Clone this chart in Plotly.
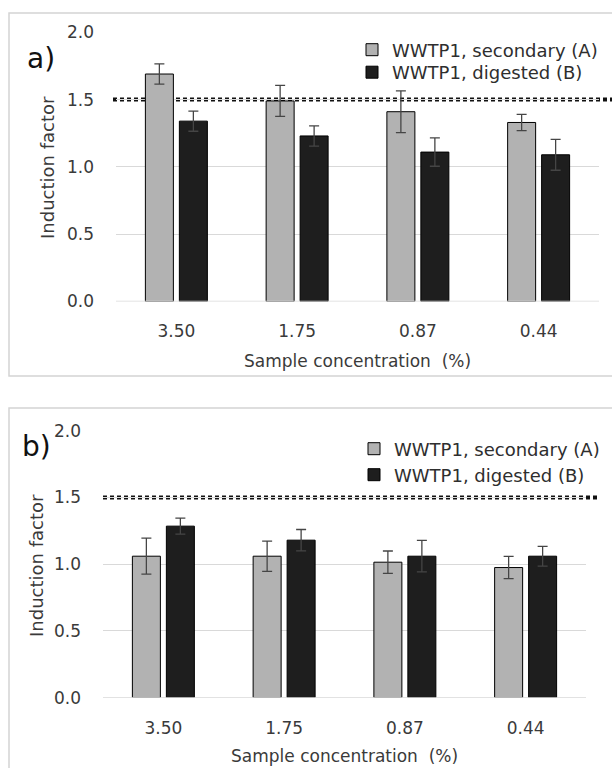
import plotly.graph_objects as go

W, H = 612, 768

categories = ["3.50", "1.75", "0.87", "0.44"]
series_names = ["WWTP1, secondary (A)", "WWTP1, digested (B)"]

# Panel a
a_secondary = [1.69, 1.49, 1.41, 1.33]
a_secondary_err = [0.075, 0.115, 0.155, 0.06]
a_digested = [1.34, 1.23, 1.11, 1.09]
a_digested_err = [0.075, 0.075, 0.105, 0.115]

# Panel b
b_secondary = [1.06, 1.06, 1.015, 0.975]
b_secondary_err = [0.135, 0.113, 0.084, 0.083]
b_digested = [1.285, 1.18, 1.06, 1.06]
b_digested_err = [0.06, 0.08, 0.118, 0.074]

threshold = 1.5
y_ticks = [0.0, 0.5, 1.0, 1.5, 2.0]

GREY = "#b2b2b2"
BLACK = "#1e1e1e"
TEXT = "#3a3a3a"
GRID = "#d9d9d9"
FONT = "DejaVu Sans"


def px(x):
    return x / W


def py(y):
    return 1 - y / H


fig = go.Figure()

panels = [
    ("x", "y", ("legend", "legend3"), a_secondary, a_secondary_err, a_digested, a_digested_err),
    ("x2", "y2", ("legend2", "legend4"), b_secondary, b_secondary_err, b_digested, b_digested_err),
]
for xa, ya, lgs, s, se, d, de in panels:
    for name, vals, errs, color, lg in [
        (series_names[0], s, se, GREY, lgs[0]),
        (series_names[1], d, de, BLACK, lgs[1]),
    ]:
        fig.add_trace(
            go.Bar(
                x=categories,
                y=vals,
                name=name,
                xaxis=xa,
                yaxis=ya,
                legend=lg,
                marker=dict(color=color, line=dict(color="#000000", width=1)),
                error_y=dict(
                    type="data", array=errs, visible=True,
                    color="#454545", thickness=1.3, width=5,
                ),
            )
        )

tickfont = dict(family=FONT, size=17, color=TEXT)
y_common = dict(showline=False, zeroline=False, ticks="", range=[0, 2],
                tickvals=y_ticks, ticktext=[f"{v:.1f}" for v in y_ticks],
                showgrid=True, gridcolor=GRID, gridwidth=1,
                tickfont=tickfont, ticklabelstandoff=21)
x_common = dict(showline=False, zeroline=False, ticks="", showgrid=False, tickfont=tickfont)

legend_font = dict(family=FONT, size=18, color="#2e2e2e")


def legend_at(x, y):
    return dict(x=px(x), y=py(y), xanchor="left", yanchor="middle",
                bgcolor="rgba(0,0,0,0)", font=legend_font)


fig.update_layout(
    width=W, height=H,
    margin=dict(l=0, r=0, t=0, b=0, autoexpand=False),
    paper_bgcolor="white", plot_bgcolor="white",
    barmode="group", bargap=0.437, bargroupgap=0.176,
    showlegend=True,
    font=dict(family=FONT, color=TEXT),
    xaxis=dict(domain=[px(116), px(599)], anchor="y", ticklabelstandoff=17, **x_common),
    yaxis=dict(domain=[py(301.5), py(32.3)], anchor="x", **y_common),
    xaxis2=dict(domain=[px(103), px(586)], anchor="y2", ticklabelstandoff=18, **x_common),
    yaxis2=dict(domain=[py(697.7), py(430.7)], anchor="x2", **y_common),
    legend=legend_at(352, 50),
    legend3=legend_at(352, 72.5),
    legend2=legend_at(354, 449),
    legend4=legend_at(354, 475),
)

shapes = []
# panel borders
shapes.append(dict(type="rect", xref="paper", yref="paper",
                   x0=px(9), x1=px(640), y0=py(376), y1=py(13),
                   line=dict(color="#d4d4d4", width=1.5), fillcolor="rgba(0,0,0,0)", layer="below"))
shapes.append(dict(type="rect", xref="paper", yref="paper",
                   x0=px(9), x1=px(640), y0=py(800), y1=py(408),
                   line=dict(color="#d4d4d4", width=1.5), fillcolor="rgba(0,0,0,0)", layer="below"))
# baselines (value 0)
shapes.append(dict(type="line", xref="x domain", yref="y", x0=0, x1=1, y0=0, y1=0,
                   line=dict(color=GRID, width=1.5)))
shapes.append(dict(type="line", xref="x2 domain", yref="y2", x0=0, x1=1, y0=0, y1=0,
                   line=dict(color=GRID, width=1.5)))
# threshold dotted lines
shapes.append(dict(type="line", xref="paper", yref="y", x0=px(113), x1=px(612), y0=threshold, y1=threshold,
                   line=dict(color="#111111", width=4, dash="4px,3px"), layer="below"))
shapes.append(dict(type="line", xref="paper", yref="y2", x0=px(103), x1=px(598), y0=threshold, y1=threshold,
                   line=dict(color="#111111", width=4, dash="4px,3px"), layer="below"))
fig.update_layout(shapes=shapes)

annotations = [
    dict(text="a)", x=px(25), y=py(58), xref="paper", yref="paper", xanchor="left", yanchor="middle",
         showarrow=False, font=dict(family=FONT, size=28, color="#111111")),
    dict(text="b)", x=px(20), y=py(446), xref="paper", yref="paper", xanchor="left", yanchor="middle",
         showarrow=False, font=dict(family=FONT, size=28, color="#111111")),
    dict(text="Induction factor", x=px(47), y=py(168), xref="paper", yref="paper", textangle=-90,
         xanchor="center", yanchor="middle", showarrow=False, font=dict(family=FONT, size=18, color=TEXT)),
    dict(text="Induction factor", x=px(36), y=py(566), xref="paper", yref="paper", textangle=-90,
         xanchor="center", yanchor="middle", showarrow=False, font=dict(family=FONT, size=18, color=TEXT)),
    dict(text="Sample concentration  (%)", x=px(357.5), y=py(361), xref="paper", yref="paper",
         xanchor="center", yanchor="middle", showarrow=False, font=dict(family=FONT, size=17, color=TEXT)),
    dict(text="Sample concentration  (%)", x=px(344.5), y=py(756), xref="paper", yref="paper",
         xanchor="center", yanchor="middle", showarrow=False, font=dict(family=FONT, size=17, color=TEXT)),
]
fig.update_layout(annotations=annotations)

fig.write_html(
    "out.html",
    config={"displayModeBar": False},
    post_script="document.body.style.margin='0';document.body.style.overflow='hidden';",
)
